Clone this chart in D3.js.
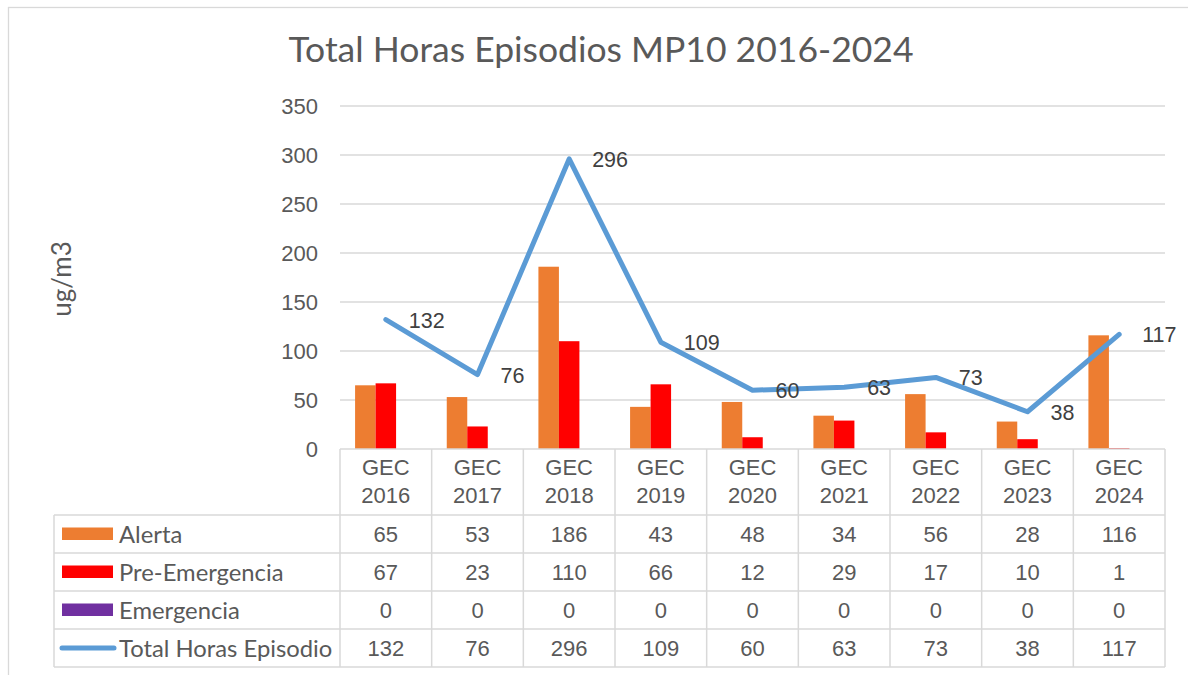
<!DOCTYPE html>
<html>
<head>
<meta charset="utf-8">
<script src="https://cdn.jsdelivr.net/npm/d3@7"></script>
<style>
  body { margin: 0; background: #fff; }
</style>
</head>
<body>
<div id="chart-area"></div>
<script>
// Chart data
var years = ["2016", "2017", "2018", "2019", "2020", "2021", "2022", "2023", "2024"];
var categories = years.map(function(y) { return "GEC " + y; });
var alerta = [65, 53, 186, 43, 48, 34, 56, 28, 116];
var preEmergencia = [67, 23, 110, 66, 12, 29, 17, 10, 1];
var emergencia = [0, 0, 0, 0, 0, 0, 0, 0, 0];
var totalHoras = [132, 76, 296, 109, 60, 63, 73, 38, 117];
var yTicks = [0, 50, 100, 150, 200, 250, 300, 350];

var barSeries = [
  { name: "Alerta", values: alerta, color: "#ED7D31" },
  { name: "Pre-Emergencia", values: preEmergencia, color: "#FF0000" },
  { name: "Emergencia", values: emergencia, color: "#7030A0" }
];
var lineSeries = { name: "Total Horas Episodio", values: totalHoras, color: "#5B9BD5" };

var W = 1188, H = 675;
var plot = { left: 340, right: 1165, top: 106, bottom: 449 };
var table = { left: 54, rowH: 38, headerBottom: 515 };

var svg = d3.select("#chart-area")
  .append("svg")
    .attr("width", W)
    .attr("height", H);

// outer chart frame
svg.append("rect")
  .attr("x", 8.5).attr("y", 7.5)
  .attr("width", W + 20).attr("height", H + 20)
  .attr("fill", "#fff")
  .attr("stroke", "#D9D9D9")
  .attr("stroke-width", 1.3);

// Scales
var x = d3.scaleBand()
  .domain(categories)
  .range([plot.left, plot.right])
  .padding(0);

var xSub = d3.scaleBand()
  .domain(barSeries.map(function(s) { return s.name; }))
  .range([0, x.bandwidth()])
  .paddingInner(0)
  .paddingOuter(0.736);

var y = d3.scaleLinear()
  .domain([0, 350])
  .range([plot.bottom, plot.top]);

// Title
svg.append("text")
  .attr("x", 601)
  .attr("y", 62)
  .attr("text-anchor", "middle")
  .attr("font-family", "Lato, 'Open Sans', sans-serif")
  .attr("font-size", 35.5)
  .attr("fill", "#595959")
  .text("Total Horas Episodios MP10 2016-2024");

// Y axis label
svg.append("text")
  .attr("transform", "translate(71,279) rotate(-90)")
  .attr("text-anchor", "middle")
  .attr("font-family", "Lato, 'Open Sans', sans-serif")
  .attr("font-size", 26)
  .attr("fill", "#595959")
  .text("ug/m3");

// Gridlines
svg.append("g")
  .selectAll("line")
  .data(yTicks.filter(function(t) { return t > 0; }))
  .enter()
  .append("line")
    .attr("x1", plot.left).attr("x2", plot.right)
    .attr("y1", function(d) { return y(d); })
    .attr("y2", function(d) { return y(d); })
    .attr("stroke", "#D9D9D9")
    .attr("stroke-width", 1.3);

// Y axis (labels only)
var yAxis = svg.append("g")
  .attr("transform", "translate(318,0)")
  .call(d3.axisLeft(y).tickValues(yTicks).tickSize(0).tickPadding(0));
yAxis.select(".domain").remove();
yAxis.selectAll("text")
  .attr("font-family", "'Liberation Sans', Arial, sans-serif")
  .attr("font-size", 22)
  .attr("fill", "#595959");

// Bars
var groups = svg.append("g")
  .selectAll("g")
  .data(barSeries)
  .enter()
  .append("g")
    .attr("fill", function(s) { return s.color; });

groups.selectAll("rect")
  .data(function(s) {
    return s.values.map(function(v, i) { return { name: s.name, cat: categories[i], value: v }; });
  })
  .enter()
  .append("rect")
    .attr("x", function(d) { return x(d.cat) + xSub(d.name); })
    .attr("y", function(d) { return y(d.value); })
    .attr("width", xSub.bandwidth())
    .attr("height", function(d) { return plot.bottom - y(d.value); });

// Line
var line = d3.line()
  .x(function(d, i) { return x(categories[i]) + x.bandwidth() / 2; })
  .y(function(d) { return y(d); });

svg.append("path")
  .datum(lineSeries.values)
  .attr("d", line)
  .attr("fill", "none")
  .attr("stroke", lineSeries.color)
  .attr("stroke-width", 5)
  .attr("stroke-linejoin", "round")
  .attr("stroke-linecap", "round");

// Data labels on the line
svg.append("g")
  .selectAll("text")
  .data(lineSeries.values)
  .enter()
  .append("text")
    .attr("x", function(d, i) { return x(categories[i]) + x.bandwidth() / 2 + 23; })
    .attr("y", function(d) { return y(d) + 8; })
    .attr("font-family", "'Liberation Sans', Arial, sans-serif")
    .attr("font-size", 21.5)
    .attr("fill", "#404040")
    .text(function(d) { return d; });

// Data table
var rows = barSeries.concat([lineSeries]);
var tableBottom = table.headerBottom + rows.length * table.rowH;
var grid = svg.append("g")
  .attr("stroke", "#D9D9D9")
  .attr("stroke-width", 1.5);

// top of header (axis line)
grid.append("line")
  .attr("x1", plot.left).attr("x2", plot.right)
  .attr("y1", plot.bottom).attr("y2", plot.bottom);

// row lines
grid.selectAll(".rowline")
  .data(d3.range(rows.length + 1))
  .enter()
  .append("line")
    .attr("x1", table.left).attr("x2", plot.right)
    .attr("y1", function(i) { return table.headerBottom + i * table.rowH; })
    .attr("y2", function(i) { return table.headerBottom + i * table.rowH; });

// column lines
var colEdges = categories.map(function(c) { return x(c); }).concat([plot.right]);
grid.selectAll(".colline")
  .data(colEdges)
  .enter()
  .append("line")
    .attr("x1", function(d) { return d; }).attr("x2", function(d) { return d; })
    .attr("y1", plot.bottom).attr("y2", tableBottom);

grid.append("line")
  .attr("x1", table.left).attr("x2", table.left)
  .attr("y1", table.headerBottom).attr("y2", tableBottom);

// Category header labels
var header = svg.append("g")
  .selectAll("text")
  .data(categories)
  .enter()
  .append("text")
    .attr("text-anchor", "middle")
    .attr("font-family", "'Liberation Sans', Arial, sans-serif")
    .attr("font-size", 22)
    .attr("fill", "#595959");

header.append("tspan")
  .attr("x", function(d) { return x(d) + x.bandwidth() / 2; })
  .attr("y", 475)
  .text(function(d) { return d.split(" ")[0]; });
header.append("tspan")
  .attr("x", function(d) { return x(d) + x.bandwidth() / 2; })
  .attr("y", 503)
  .text(function(d) { return d.split(" ")[1]; });

// Table rows: legend key, name and values
rows.forEach(function(s, r) {
  var cy = table.headerBottom + r * table.rowH + table.rowH / 2;
  var g = svg.append("g");

  if (s === lineSeries) {
    g.append("line")
      .attr("x1", 62).attr("x2", 114)
      .attr("y1", cy).attr("y2", cy)
      .attr("stroke", s.color)
      .attr("stroke-width", 5)
      .attr("stroke-linecap", "round");
  } else {
    g.append("rect")
      .attr("x", 62).attr("y", cy - 6.5)
      .attr("width", 51).attr("height", 12.5)
      .attr("fill", s.color);
  }

  g.append("text")
    .attr("x", 119)
    .attr("y", cy + 8.5)
    .attr("font-family", "Lato, 'Open Sans', sans-serif")
    .attr("font-size", 23.8)
    .attr("fill", "#595959")
    .text(s.name);

  g.selectAll(".val")
    .data(s.values)
    .enter()
    .append("text")
      .attr("x", function(d, i) { return x(categories[i]) + x.bandwidth() / 2; })
      .attr("y", cy + 8)
      .attr("text-anchor", "middle")
      .attr("font-family", "'Liberation Sans', Arial, sans-serif")
      .attr("font-size", 22)
      .attr("fill", "#595959")
      .text(function(d) { return d; });
});
</script>
</body>
</html>
